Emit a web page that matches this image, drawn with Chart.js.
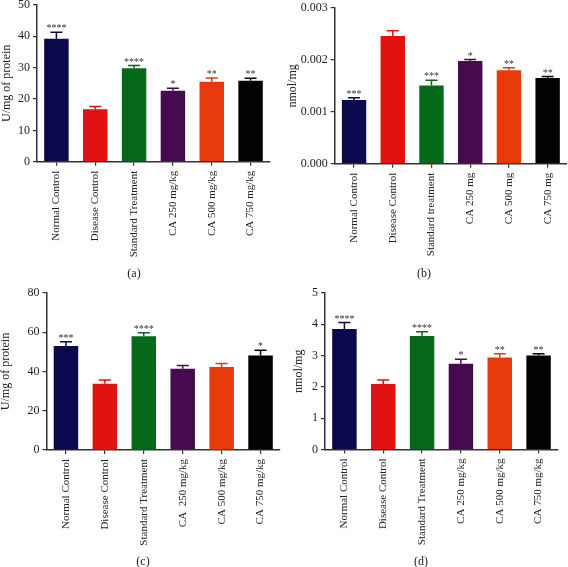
<!DOCTYPE html>
<html><head><meta charset="utf-8">
<script src="https://cdn.jsdelivr.net/npm/chart.js@4.4.0/dist/chart.umd.min.js"></script>
<style>
html,body{margin:0;padding:0;background:#fff;width:568px;height:567px;overflow:hidden;position:relative}
canvas{position:absolute}
.cap{position:absolute;font-family:'Liberation Serif',serif;font-size:12px;color:#222;transform:translate(-50%,-50%);white-space:nowrap}
</style></head><body>
<canvas id="ca"></canvas>
<canvas id="cb"></canvas>
<canvas id="cc"></canvas>
<canvas id="cd"></canvas>
<div class="cap" style="left:134px;top:273px">(a)</div>
<div class="cap" style="left:424px;top:273px">(b)</div>
<div class="cap" style="left:143px;top:561px">(c)</div>
<div class="cap" style="left:421px;top:561px">(d)</div>
<script>
// ---- data ----
const labelsA = ['Normal Control', 'Disease Control', 'Standard Treatment', 'CA 250 mg/kg', 'CA 500 mg/kg', 'CA 750 mg/kg'];
const labelsB = ['Normal Control', 'Disease Control', 'Standard treatment', 'CA 250 mg', 'CA 500 mg', 'CA 750 mg'];
const labelsC = ['Normal Control', 'Disease Control', 'Standard Treatment', 'CA  250 mg/kg', 'CA 500 mg/kg', 'CA 750 mg/kg'];
const labelsD = ['Normal Control', 'Disease Control', 'Standard Treatment', 'CA 250 mg/kg', 'CA 500 mg/kg', 'CA 750 mg/kg'];

const valuesA = [39.2, 16.7, 29.8, 22.6, 25.5, 25.8];
const errorsA = [2.1, 0.9, 0.9, 0.8, 1.2, 0.8];
const starsA  = ['****', '', '****', '*', '**', '**'];

const valuesB = [0.00123, 0.00246, 0.00151, 0.00198, 0.00180, 0.00165];
const errorsB = [0.00004, 0.00010, 0.00010, 0.00003, 0.00005, 0.00003];
const starsB  = ['***', '', '***', '*', '**', '**'];

const valuesC = [53.0, 33.8, 58.0, 41.4, 42.3, 48.2];
const errorsC = [2.2, 1.9, 1.7, 1.7, 1.8, 2.6];
const starsC  = ['***', '', '****', '', '', '*'];

const valuesD = [3.85, 2.09, 3.63, 2.74, 2.94, 3.00];
const errorsD = [0.21, 0.13, 0.13, 0.14, 0.12, 0.06];
const starsD  = ['****', '', '****', '*', '**', '**'];

const ticksA = {max: 50, step: 10, decimals: 0};
const ticksB = {max: 0.003, step: 0.001, decimals: 3};
const ticksC = {max: 80, step: 20, decimals: 0};
const ticksD = {max: 5, step: 1, decimals: 0};

const titleA = 'U/mg of protein';
const titleB = 'nmol/mg';
const titleC = 'U/mg of protein';
const titleD = 'nmol/mg';

// ---- styles ----
const barColors = ['#0c0a4c', '#e1120f', '#07691a', '#450b4d', '#e73a0b', '#020202'];
const FONT = "'Liberation Serif', 'Times New Roman', serif";
const AXIS = '#333333';

const errPlugin = {
  id: 'errStars',
  afterDatasetsDraw(chart) {
    const o = chart.options.plugins.errStars;
    const ctx = chart.ctx, y = chart.scales.y;
    const meta = chart.getDatasetMeta(0);
    const vals = chart.data.datasets[0].data;
    ctx.save();
    meta.data.forEach((bar, i) => {
      const top = y.getPixelForValue(vals[i]);
      const et = y.getPixelForValue(vals[i] + o.err[i]);
      ctx.strokeStyle = barColors[i];
      ctx.lineWidth = 1.5;
      ctx.beginPath();
      ctx.moveTo(bar.x, top); ctx.lineTo(bar.x, et);
      ctx.moveTo(bar.x - 6, et); ctx.lineTo(bar.x + 6, et);
      ctx.stroke();
      if (o.stars[i]) {
        ctx.fillStyle = '#333';
        ctx.font = '10px ' + FONT;
        ctx.textAlign = 'center';
        ctx.textBaseline = 'middle';
        ctx.fillText(o.stars[i], bar.x, et - 3.5);
      }
    });
    ctx.restore();
  }
};

function makePanel(id, box, labels, values, errors, stars, tk, title) {
  const cv = document.getElementById(id);
  const left = Math.round(box.titleCX - 7.2);
  const top = Math.round(box.T - 12);
  const width = Math.round(box.R + 12 - left);
  const height = Math.round(box.B + 118 - top);
  const yW = box.L - left;
  const xH = height - (box.B - top);
  cv.style.left = left + 'px';
  cv.style.top = top + 'px';
  cv.width = width; cv.height = height;
  cv.style.width = width + 'px'; cv.style.height = height + 'px';
  new Chart(cv, {
    type: 'bar',
    data: { labels: labels, datasets: [{ data: values, backgroundColor: barColors, borderWidth: 0,
      barPercentage: 0.63, categoryPercentage: 1.0 }] },
    options: {
      responsive: false, animation: false, devicePixelRatio: 1,
      layout: { padding: { top: 12, right: 12, left: 0, bottom: 0 } },
      plugins: { legend: { display: false }, tooltip: { enabled: false },
        errStars: { err: errors, stars: stars } },
      scales: {
        x: {
          offset: true,
          grid: { display: true, drawOnChartArea: false, drawTicks: true, tickLength: 4, offset: false, color: AXIS, lineWidth: 1.2 },
          border: { display: true, color: AXIS, width: 1.5 },
          ticks: { autoSkip: false, maxRotation: 90, minRotation: 90, padding: 5, color: '#222', font: { family: FONT, size: 11 } },
          afterFit(s) { s.height = xH; }
        },
        y: {
          min: 0, max: tk.max,
          grid: { display: true, drawOnChartArea: false, drawTicks: true, tickLength: 4, color: AXIS, lineWidth: 1.2 },
          border: { display: true, color: AXIS, width: 1.5 },
          ticks: { stepSize: tk.step, padding: 3, color: '#222', font: { family: FONT, size: 12 },
            callback: v => Number(v).toFixed(tk.decimals) },
          title: { display: true, text: title, color: '#222', padding: 0, font: { family: FONT, size: 12 } },
          afterFit(s) { s.width = yW; }
        }
      }
    },
    plugins: [errPlugin]
  });
}

makePanel('ca', {L: 37, R: 270, T: 5, B: 161.7, titleCX: 7}, labelsA, valuesA, errorsA, starsA, ticksA, titleA);
makePanel('cb', {L: 334.7, R: 567, T: 7.5, B: 163.8, titleCX: 293}, labelsB, valuesB, errorsB, starsB, ticksB, titleB);
makePanel('cc', {L: 46.5, R: 279.5, T: 292.5, B: 450, titleCX: 6.5}, labelsC, valuesC, errorsC, starsC, ticksC, titleC);
makePanel('cd', {L: 325, R: 557.5, T: 293.3, B: 449.5, titleCX: 299.5}, labelsD, valuesD, errorsD, starsD, ticksD, titleD);
</script>
</body></html>
